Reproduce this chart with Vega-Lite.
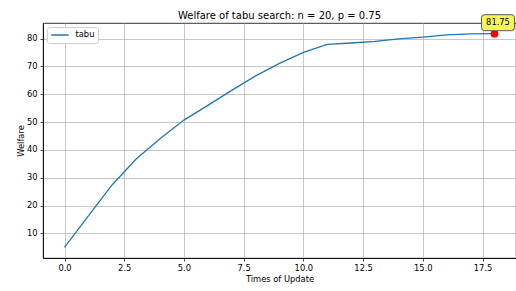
{
  "$schema": "https://vega.github.io/schema/vega-lite/v6.json",
  "width": 473,
  "height": 235,
  "autosize": {"type": "none"},
  "padding": {"left": 43, "top": 23, "right": 0, "bottom": 33},
  "background": "white",
  "title": {
    "text": "Welfare of tabu search: n = 20, p = 0.75",
    "font": "DejaVu Sans",
    "fontSize": 10,
    "fontWeight": "normal",
    "color": "black",
    "anchor": "middle",
    "frame": "group",
    "baseline": "alphabetic",
    "offset": 5,
    "dy": 21
  },
  "config": {
    "view": {"stroke": "black", "strokeWidth": 0.8},
    "axis": {
      "labelFont": "DejaVu Sans",
      "titleFont": "DejaVu Sans",
      "labelFontSize": 8.33,
      "titleFontSize": 8.33,
      "titleFontWeight": "normal",
      "labelColor": "black",
      "titleColor": "black",
      "gridColor": "#b0b0b0",
      "gridWidth": 0.7,
      "gridOpacity": 1,
      "domainColor": "black",
      "domainWidth": 0.8,
      "tickColor": "black",
      "tickWidth": 0.7,
      "tickSize": 3,
      "labelPadding": 3,
      "labelOverlap": false
    }
  },
  "datasets": {
    "welfare": [
      {"update": 0, "welfare": 5.0, "series": "tabu"},
      {"update": 1, "welfare": 16.3, "series": "tabu"},
      {"update": 2, "welfare": 27.5, "series": "tabu"},
      {"update": 3, "welfare": 36.7, "series": "tabu"},
      {"update": 4, "welfare": 44.0, "series": "tabu"},
      {"update": 5, "welfare": 50.7, "series": "tabu"},
      {"update": 6, "welfare": 56.0, "series": "tabu"},
      {"update": 7, "welfare": 61.4, "series": "tabu"},
      {"update": 8, "welfare": 66.6, "series": "tabu"},
      {"update": 9, "welfare": 71.1, "series": "tabu"},
      {"update": 10, "welfare": 75.0, "series": "tabu"},
      {"update": 11, "welfare": 77.9, "series": "tabu"},
      {"update": 12, "welfare": 78.4, "series": "tabu"},
      {"update": 13, "welfare": 79.0, "series": "tabu"},
      {"update": 14, "welfare": 79.9, "series": "tabu"},
      {"update": 15, "welfare": 80.5, "series": "tabu"},
      {"update": 16, "welfare": 81.3, "series": "tabu"},
      {"update": 17, "welfare": 81.7, "series": "tabu"},
      {"update": 18, "welfare": 81.75, "series": "tabu"}
    ],
    "peak": [
      {"update": 18, "welfare": 81.75, "label": "81.75"}
    ]
  },
  "encoding": {
    "x": {
      "field": "update",
      "type": "quantitative",
      "title": "Times of Update",
      "scale": {"domain": [-0.9, 18.9], "nice": false, "zero": false},
      "axis": {"values": [0, 2.5, 5, 7.5, 10, 12.5, 15, 17.5], "format": ".1f", "labelPadding": 2.5, "titlePadding": 3}
    },
    "y": {
      "field": "welfare",
      "type": "quantitative",
      "title": "Welfare",
      "scale": {"domain": [1.16, 85.59], "nice": false, "zero": false},
      "axis": {"tickCount": 8, "labelOverlap": false, "labelFlush": false, "titleX": -18}
    }
  },
  "layer": [
    {
      "data": {"name": "welfare"},
      "mark": {"type": "line", "strokeWidth": 1.3, "clip": true},
      "encoding": {
        "color": {
          "field": "series",
          "type": "nominal",
          "scale": {"range": ["#1f77b4"]},
          "legend": {
            "title": null,
            "orient": "none",
            "legendX": 4,
            "legendY": 4,
            "symbolType": "stroke",
            "symbolSize": 300,
            "symbolStrokeWidth": 1.3,
            "clipHeight": 9,
            "labelFont": "DejaVu Sans",
            "labelFontSize": 8.33,
            "labelColor": "black",
            "labelOffset": 6,
            "strokeColor": "#d0d0d0",
            "fillColor": "white",
            "cornerRadius": 2,
            "padding": 3.5
          }
        }
      }
    },
    {
      "data": {"name": "peak"},
      "mark": {"type": "point", "filled": true, "color": "red", "size": 60, "opacity": 1}
    },
    {
      "data": {"name": "peak"},
      "mark": {
        "type": "point",
        "shape": "M -1.69,-1 L 1.69,-1 Q 2.06,-1 2.06,-0.63 L 2.06,0.63 Q 2.06,1 1.69,1 L -1.69,1 Q -2.06,1 -2.06,0.63 L -2.06,-0.63 Q -2.06,-1 -1.69,-1 Z",
        "size": 256,
        "filled": true,
        "fill": "#f7f752",
        "fillOpacity": 1,
        "stroke": "#555555",
        "strokeWidth": 1,
        "opacity": 1,
        "xOffset": 3.5,
        "yOffset": -11
      }
    },
    {
      "data": {"name": "peak"},
      "mark": {
        "type": "text",
        "font": "DejaVu Sans",
        "fontSize": 8.33,
        "color": "black",
        "align": "center",
        "baseline": "middle",
        "dx": 3.5,
        "dy": -11
      },
      "encoding": {
        "text": {"field": "label"}
      }
    }
  ]
}
